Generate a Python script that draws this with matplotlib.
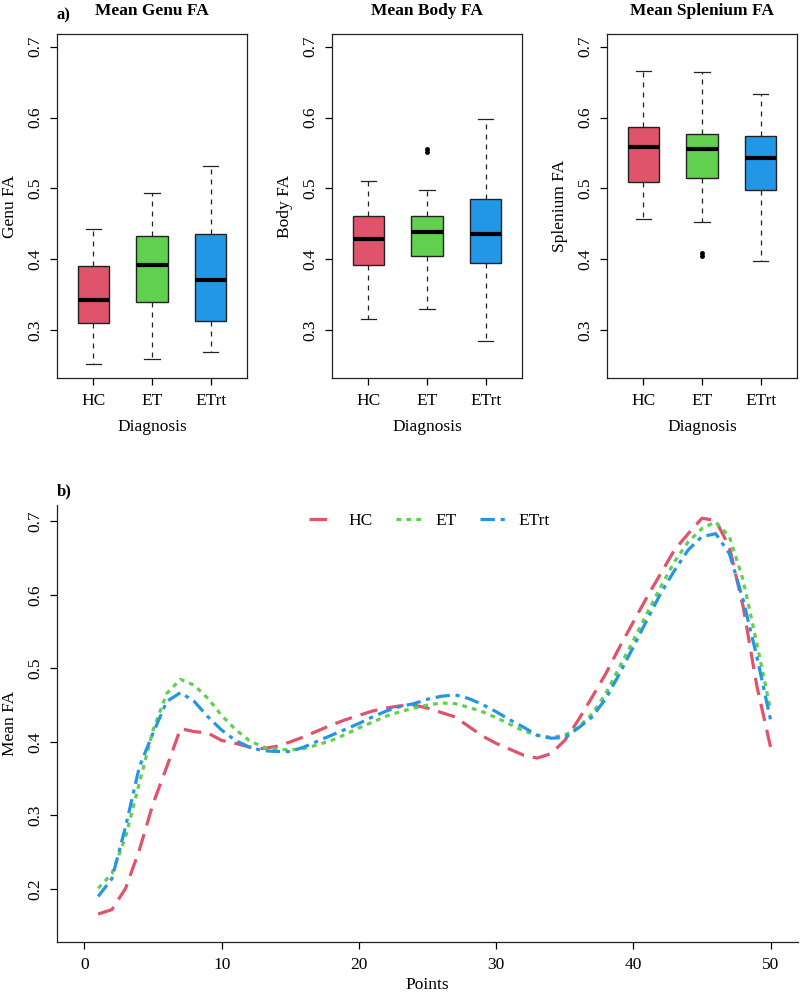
import matplotlib
matplotlib.use("Agg")
import matplotlib.pyplot as plt
import numpy as np

plt.rcParams['font.family'] = ['Liberation Serif', 'DejaVu Serif']
plt.rcParams['font.size'] = 12

# groups and colours (R 4.x palette)
groups = ["HC", "ET", "ETrt"]
colors = ["#DF536B", "#61D04F", "#2297E6"]

# box statistics: lower whisker, Q1, median, Q3, upper whisker
genu_stats = [[0.252, 0.310, 0.342, 0.390, 0.443],
              [0.259, 0.340, 0.392, 0.432, 0.494],
              [0.269, 0.313, 0.370, 0.435, 0.531]]
body_stats = [[0.315, 0.392, 0.429, 0.461, 0.511],
              [0.330, 0.404, 0.438, 0.461, 0.498],
              [0.284, 0.395, 0.436, 0.485, 0.598]]
splen_stats = [[0.457, 0.509, 0.559, 0.587, 0.666],
               [0.452, 0.515, 0.556, 0.577, 0.665],
               [0.397, 0.497, 0.543, 0.574, 0.633]]
body_out = [[], [0.556, 0.551], []]
splen_out = [[], [0.408, 0.404], []]
genu_out = [[], [], []]

# mean FA along the tract, points 1..50
points = np.arange(1, 51)
hc_fa = [0.166, 0.172, 0.201, 0.253, 0.316, 0.366, 0.418, 0.414, 0.412, 0.402,
         0.398, 0.393, 0.391, 0.394, 0.400, 0.407, 0.415, 0.423, 0.430, 0.436,
         0.442, 0.446, 0.449, 0.450, 0.446, 0.440, 0.434, 0.421, 0.408, 0.398,
         0.390, 0.382, 0.378, 0.384, 0.402, 0.430, 0.461, 0.493, 0.529, 0.563,
         0.597, 0.629, 0.661, 0.683, 0.704, 0.701, 0.665, 0.584, 0.476, 0.393]
et_fa = [0.201, 0.221, 0.271, 0.344, 0.416, 0.466, 0.485, 0.477, 0.459, 0.436,
         0.417, 0.402, 0.393, 0.390, 0.389, 0.391, 0.396, 0.402, 0.410, 0.419,
         0.427, 0.435, 0.441, 0.446, 0.450, 0.453, 0.452, 0.447, 0.441, 0.433,
         0.424, 0.415, 0.409, 0.406, 0.409, 0.420, 0.438, 0.466, 0.502, 0.538,
         0.575, 0.611, 0.645, 0.672, 0.690, 0.699, 0.679, 0.620, 0.534, 0.443]
etrt_fa = [0.190, 0.214, 0.285, 0.366, 0.412, 0.455, 0.467, 0.455, 0.434, 0.416,
           0.402, 0.393, 0.388, 0.387, 0.387, 0.393, 0.401, 0.409, 0.417, 0.425,
           0.434, 0.442, 0.448, 0.452, 0.458, 0.462, 0.464, 0.459, 0.451, 0.441,
           0.430, 0.420, 0.409, 0.405, 0.406, 0.419, 0.434, 0.459, 0.493, 0.529,
           0.566, 0.602, 0.633, 0.661, 0.679, 0.683, 0.656, 0.593, 0.516, 0.430]

W, H = 800, 996
fig = plt.figure(figsize=(W / 100, H / 100), dpi=100)


def px_axes(left, top, right, bottom):
    return fig.add_axes([left / W, 1 - bottom / H, (right - left) / W, (bottom - top) / H])


def box_panel(ax, stats, outliers, title, ylabel):
    bxp_stats = []
    for s, out in zip(stats, outliers):
        bxp_stats.append(dict(whislo=s[0], q1=s[1], med=s[2], q3=s[3], whishi=s[4], fliers=out))
    bp = ax.bxp(bxp_stats, positions=[1, 2, 3], widths=0.53, patch_artist=True,
                boxprops=dict(edgecolor="#222222", linewidth=1),
                medianprops=dict(color="black", linewidth=3, solid_capstyle="butt"),
                whiskerprops=dict(color="#222222", linewidth=0.9, linestyle=(0, (4, 4))),
                capprops=dict(color="#222222", linewidth=0.9),
                capwidths=0.265,
                flierprops=dict(marker="o", markersize=2.5, markerfacecolor="black",
                                markeredgecolor="black"))
    for patch, c in zip(bp["boxes"], colors):
        patch.set_facecolor(c)
    ax.set_xlim(0.38, 3.62)
    ax.set_ylim(0.232, 0.718)
    ax.set_yticks([0.3, 0.4, 0.5, 0.6, 0.7])
    ax.set_xticks([1, 2, 3])
    ax.set_xticklabels(groups)
    for lab in ax.get_yticklabels():
        lab.set_rotation(90)
        lab.set_va("center")
    ax.tick_params(direction="out", length=5, width=0.9, pad=6, labelsize=12.5)
    ax.tick_params(axis="y", pad=5)
    for sp in ax.spines.values():
        sp.set_linewidth(0.9)
        sp.set_color("#222222")
    ax.set_title(title, fontweight="bold", fontsize=12.5, pad=14)
    ax.set_ylabel(ylabel, fontsize=12.5)
    ax.yaxis.set_label_coords(-0.203, 0.5)
    ax.set_xlabel("Diagnosis", fontsize=12.5)
    ax.xaxis.set_label_coords(0.5, -0.12)


ax1 = px_axes(57, 34, 247, 378)
ax2 = px_axes(332, 34, 522, 378)
ax3 = px_axes(607, 34, 797, 378)
box_panel(ax1, genu_stats, genu_out, "Mean Genu FA", "Genu FA")
box_panel(ax2, body_stats, body_out, "Mean Body FA", "Body FA")
box_panel(ax3, splen_stats, splen_out, "Mean Splenium FA", "Splenium FA")

# 下方折线图
ax4 = px_axes(57, 505, 798, 942)
ax4.plot(points, hc_fa, color=colors[0], linewidth=2.3, linestyle=(0, (5.5, 2.8)), label="HC")
ax4.plot(points, et_fa, color=colors[1], linewidth=2.3, linestyle=(0, (1.5, 1.6)), label="ET")
ax4.plot(points, etrt_fa, color=colors[2], linewidth=2.3, linestyle=(0, (4.5, 1.8, 1.3, 1.8)), label="ETrt")
ax4.set_xlim(-2, 52)
ax4.set_ylim(0.128, 0.722)
ax4.set_xticks([0, 10, 20, 30, 40, 50])
ax4.set_yticks([0.2, 0.3, 0.4, 0.5, 0.6, 0.7])
for lab in ax4.get_yticklabels():
    lab.set_rotation(90)
    lab.set_va("center")
ax4.spines["top"].set_visible(False)
ax4.spines["right"].set_visible(False)
for sp in ("left", "bottom"):
    ax4.spines[sp].set_linewidth(0.9)
    ax4.spines[sp].set_color("#222222")
ax4.tick_params(direction="out", length=5, width=0.9, pad=6, labelsize=12.5)
ax4.tick_params(axis="y", pad=5)
ax4.set_xlabel("Points", fontsize=12.5)
ax4.xaxis.set_label_coords(0.5, -0.08)
ax4.set_ylabel("Mean FA", fontsize=12.5)
ax4.yaxis.set_label_coords(-0.052, 0.5)
ax4.legend(loc="upper center", bbox_to_anchor=(0.503, 1.018), ncol=3, frameon=False,
           handlelength=1.5, columnspacing=1.35, handletextpad=0.75, fontsize=12.5)

fig.text(57 / W, 1 - 15 / H, "a)", fontweight="bold", fontsize=12, ha="left", va="center")
fig.text(57 / W, 1 - 491 / H, "b)", fontweight="bold", fontsize=12, ha="left", va="center")

fig.savefig("out.png", dpi=100)
